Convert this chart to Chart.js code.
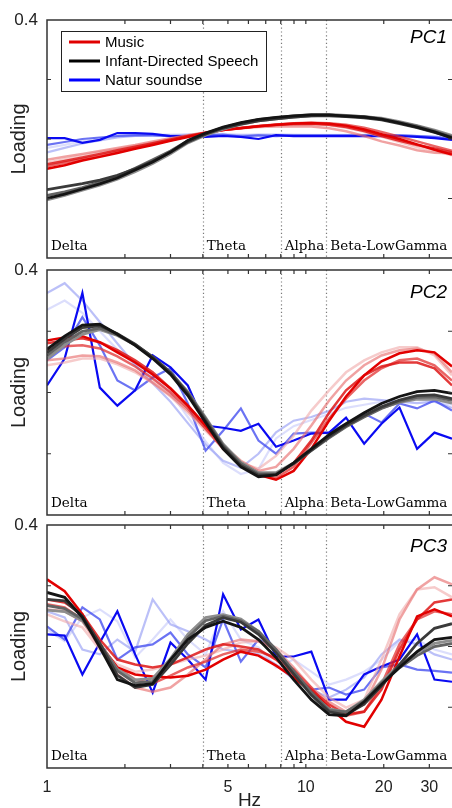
<!DOCTYPE html>
<html>
<head>
<meta charset="utf-8">
<script src="https://cdn.jsdelivr.net/npm/chart.js@4.4.1/dist/chart.umd.min.js"></script>
<style>
body { margin: 0; background: #fff; }
#wrap { position: relative; width: 452px; height: 808px; overflow: hidden; }
#wrap canvas { position: absolute; left: 0; }
</style>
</head>
<body>
<div id="wrap">
  <canvas id="pc1" width="452" height="262" style="top:0px"></canvas>
  <canvas id="pc2" width="452" height="270" style="top:250px"></canvas>
  <canvas id="pc3" width="452" height="303" style="top:505px"></canvas>
</div>
<script>
// frequency bins (Hz), log spaced
var freqs = [1.00, 1.17, 1.37, 1.60, 1.87, 2.19, 2.56, 3.00, 3.50, 4.10, 4.79, 5.61,
             6.56, 7.67, 8.97, 10.5, 12.3, 14.3, 16.8, 19.6, 23.0, 26.9, 31.4, 36.7];
var xTicks = [1, 2, 3, 4, 5, 6, 7, 8, 9, 10, 20, 30];
var xTickLabels = [1, 5, 10, 20, 30];
var yTicks = [-0.2, 0, 0.2];
var bandNames = ['Delta', 'Theta', 'Alpha', 'Beta-LowGamma'];
var bandStarts = [1, 4, 8, 12];
var seriesNames = ['Music', 'Infant-Directed Speech', 'Natur soundse'];

// PC1 loadings
var pc1Speech = [
  [-0.200,-0.185,-0.168,-0.151,-0.131,-0.104,-0.077,-0.044,-0.005,0.020,0.040,0.055,0.066,0.073,0.078,0.081,0.081,0.077,0.074,0.067,0.054,0.040,0.024,0.003],
  [-0.170,-0.160,-0.150,-0.138,-0.122,-0.100,-0.075,-0.045,-0.010,0.016,0.036,0.050,0.061,0.068,0.074,0.078,0.078,0.075,0.071,0.064,0.052,0.038,0.022,0.005],
  [-0.190,-0.178,-0.163,-0.145,-0.125,-0.098,-0.070,-0.040,-0.006,0.018,0.038,0.053,0.065,0.072,0.078,0.082,0.082,0.079,0.075,0.068,0.056,0.043,0.027,0.008],
  [-0.205,-0.190,-0.172,-0.155,-0.135,-0.110,-0.082,-0.050,-0.013,0.013,0.033,0.049,0.061,0.068,0.074,0.078,0.080,0.078,0.075,0.070,0.058,0.045,0.030,0.012]
];
var pc1Music = [
  [-0.100,-0.088,-0.072,-0.060,-0.047,-0.033,-0.020,-0.006,0.007,0.020,0.030,0.036,0.043,0.048,0.052,0.054,0.051,0.045,0.032,0.016,0.000,-0.018,-0.036,-0.052],
  [-0.085,-0.074,-0.062,-0.050,-0.038,-0.026,-0.014,-0.002,0.010,0.021,0.031,0.037,0.043,0.047,0.050,0.051,0.048,0.040,0.027,0.010,-0.006,-0.020,-0.032,-0.045],
  [-0.092,-0.080,-0.067,-0.055,-0.043,-0.030,-0.017,-0.004,0.009,0.020,0.030,0.037,0.044,0.049,0.053,0.055,0.053,0.048,0.038,0.024,0.008,-0.008,-0.024,-0.040],
  [-0.070,-0.060,-0.050,-0.040,-0.030,-0.020,-0.008,0.003,0.013,0.022,0.030,0.036,0.040,0.042,0.043,0.042,0.036,0.026,0.010,-0.008,-0.022,-0.038,-0.046,-0.048],
  [-0.080,-0.068,-0.055,-0.044,-0.034,-0.023,-0.012,0.000,0.012,0.022,0.031,0.038,0.044,0.048,0.050,0.050,0.046,0.038,0.024,0.008,-0.010,-0.028,-0.040,-0.055]
];
var pc1Nature = [
  [0.003,0.003,-0.013,-0.003,0.020,0.020,0.017,0.010,0.010,0.007,0.010,0.007,0.000,0.013,0.010,0.010,0.010,0.010,0.010,0.010,0.010,0.007,0.003,-0.003],
  [-0.020,-0.010,0.000,0.005,0.010,0.012,0.012,0.010,0.010,0.012,0.015,0.008,0.012,0.010,0.012,0.012,0.012,0.012,0.012,0.012,0.012,0.010,0.006,0.000],
  [-0.045,-0.030,-0.015,-0.005,0.005,0.010,0.012,0.012,0.014,0.014,0.014,0.012,0.014,0.014,0.013,0.013,0.013,0.013,0.013,0.013,0.012,0.010,0.008,0.004],
  [-0.030,-0.020,-0.008,0.002,0.008,0.014,0.015,0.015,0.016,0.016,0.017,0.015,0.015,0.015,0.015,0.014,0.014,0.014,0.014,0.014,0.013,0.011,0.007,0.002]
];

// PC2 loadings
var pc2Speech = [
  [0.141,0.184,0.220,0.223,0.190,0.154,0.111,0.059,-0.010,-0.098,-0.184,-0.243,-0.275,-0.269,-0.230,-0.184,-0.138,-0.102,-0.066,-0.036,-0.013,0.003,0.007,-0.003],
  [0.130,0.175,0.212,0.218,0.192,0.158,0.116,0.064,-0.004,-0.092,-0.178,-0.238,-0.270,-0.268,-0.232,-0.188,-0.144,-0.108,-0.075,-0.047,-0.025,-0.010,-0.008,-0.020],
  [0.120,0.165,0.200,0.210,0.188,0.156,0.116,0.066,0.000,-0.086,-0.172,-0.232,-0.266,-0.265,-0.232,-0.190,-0.148,-0.112,-0.080,-0.052,-0.030,-0.016,-0.014,-0.026],
  [0.110,0.155,0.190,0.205,0.186,0.155,0.115,0.065,0.002,-0.082,-0.168,-0.228,-0.262,-0.262,-0.230,-0.188,-0.146,-0.110,-0.078,-0.050,-0.032,-0.022,-0.022,-0.035]
];
var pc2Music = [
  [0.170,0.180,0.184,0.164,0.131,0.098,0.059,0.013,-0.043,-0.108,-0.177,-0.233,-0.269,-0.285,-0.256,-0.184,-0.092,-0.013,0.056,0.102,0.128,0.138,0.131,0.085],
  [0.161,0.170,0.177,0.164,0.138,0.105,0.066,0.013,-0.043,-0.108,-0.177,-0.230,-0.262,-0.269,-0.230,-0.157,-0.066,0.007,0.056,0.085,0.098,0.098,0.079,0.023],
  [0.138,0.151,0.154,0.144,0.118,0.085,0.046,0.000,-0.052,-0.118,-0.184,-0.236,-0.269,-0.279,-0.243,-0.164,-0.085,-0.020,0.039,0.079,0.105,0.111,0.089,0.039],
  [0.105,0.111,0.121,0.118,0.098,0.072,0.033,-0.010,-0.059,-0.118,-0.174,-0.223,-0.256,-0.243,-0.184,-0.108,-0.026,0.039,0.089,0.121,0.138,0.144,0.128,0.066],
  [0.089,0.098,0.111,0.111,0.092,0.066,0.030,-0.013,-0.066,-0.125,-0.180,-0.230,-0.249,-0.207,-0.141,-0.059,0.007,0.066,0.105,0.131,0.148,0.148,0.121,0.056]
];
var pc2Nature = [
  [0.023,0.111,0.325,0.016,-0.043,0.007,0.121,0.082,0.023,-0.108,-0.115,-0.125,-0.102,-0.177,-0.157,-0.134,-0.131,-0.082,-0.167,-0.102,-0.049,-0.184,-0.131,-0.151],
  [0.105,0.148,0.246,0.154,0.039,0.007,0.049,0.079,-0.036,-0.190,-0.125,-0.052,-0.157,-0.200,-0.134,-0.131,-0.131,-0.102,-0.069,-0.098,-0.036,-0.052,-0.026,-0.059],
  [0.325,0.357,0.300,0.230,0.160,0.090,0.030,-0.030,-0.100,-0.170,-0.223,-0.246,-0.200,-0.130,-0.092,-0.080,-0.060,-0.030,-0.020,-0.025,-0.030,-0.035,-0.030,-0.050],
  [0.270,0.300,0.260,0.200,0.140,0.090,0.050,0.000,-0.080,-0.160,-0.230,-0.266,-0.250,-0.150,-0.110,-0.090,-0.070,-0.050,-0.040,-0.030,-0.030,-0.020,-0.030,-0.040]
];

// PC3 loadings
var pc3Speech = [
  [0.178,0.162,0.096,-0.003,-0.109,-0.129,-0.122,-0.043,0.023,0.063,0.083,0.063,0.023,-0.036,-0.109,-0.175,-0.224,-0.228,-0.182,-0.125,-0.069,-0.017,0.023,0.030],
  [0.155,0.150,0.100,0.010,-0.095,-0.135,-0.125,-0.060,0.010,0.070,0.095,0.080,0.040,-0.020,-0.090,-0.160,-0.215,-0.225,-0.190,-0.130,-0.060,0.010,0.060,0.075],
  [0.135,0.125,0.090,0.010,-0.080,-0.120,-0.115,-0.050,0.030,0.085,0.100,0.085,0.050,-0.010,-0.080,-0.150,-0.210,-0.215,-0.180,-0.120,-0.070,-0.030,0.000,0.010],
  [0.120,0.115,0.085,0.010,-0.075,-0.110,-0.105,-0.040,0.040,0.095,0.105,0.090,0.050,-0.015,-0.085,-0.155,-0.205,-0.215,-0.175,-0.115,-0.060,-0.020,0.010,0.020]
];
var pc3Music = [
  [0.221,0.182,0.106,0.007,-0.069,-0.092,-0.099,-0.102,-0.096,-0.076,-0.043,-0.017,-0.030,-0.063,-0.102,-0.149,-0.201,-0.248,-0.264,-0.175,-0.033,0.099,0.122,0.099],
  [0.155,0.145,0.106,0.023,-0.043,-0.059,-0.069,-0.059,-0.036,-0.010,0.007,0.000,-0.010,-0.043,-0.092,-0.142,-0.191,-0.224,-0.214,-0.142,-0.010,0.089,0.145,0.155],
  [0.139,0.129,0.089,0.007,-0.069,-0.109,-0.122,-0.096,-0.069,-0.050,-0.026,-0.010,-0.017,-0.036,-0.076,-0.135,-0.208,-0.228,-0.215,-0.125,0.007,0.089,0.116,0.106],
  [0.122,0.116,0.083,-0.003,-0.092,-0.135,-0.149,-0.135,-0.092,-0.043,0.007,0.023,0.017,-0.010,-0.069,-0.135,-0.182,-0.215,-0.191,-0.076,0.089,0.188,0.228,0.205],
  [0.106,0.083,0.063,-0.010,-0.059,-0.083,-0.076,-0.059,-0.043,-0.030,-0.010,0.013,0.017,-0.003,-0.043,-0.109,-0.168,-0.201,-0.175,-0.043,0.106,0.188,0.195,0.162]
];
var pc3Nature = [
  [0.040,0.036,-0.092,0.013,0.116,-0.026,-0.152,0.013,-0.043,-0.109,0.172,0.056,0.089,-0.033,-0.033,-0.017,-0.175,-0.175,-0.092,-0.066,-0.043,0.040,-0.109,-0.116],
  [0.066,0.023,0.129,0.089,-0.043,-0.003,0.007,0.046,-0.026,-0.069,0.089,-0.050,0.023,-0.010,-0.092,-0.142,-0.135,-0.158,-0.142,-0.069,-0.059,-0.076,-0.080,-0.086],
  [0.116,0.096,-0.010,-0.026,0.023,-0.017,0.155,0.073,0.050,0.023,-0.010,-0.017,-0.026,-0.059,-0.109,-0.142,-0.168,-0.142,-0.102,-0.026,0.023,0.007,-0.026,-0.043],
  [0.056,0.017,0.096,0.122,0.083,-0.036,0.023,0.089,0.023,-0.026,0.116,0.023,-0.003,-0.069,-0.043,-0.083,-0.125,-0.109,-0.083,-0.043,0.017,0.023,-0.010,-0.026]
];

var speechColors = ['#141414', '#3a3a3a', '#646464', '#8e8e8e'];
var musicColors = ['#e20000', 'rgba(222,22,22,0.85)', 'rgba(226,50,50,0.75)', 'rgba(232,112,112,0.65)', 'rgba(240,168,168,0.6)'];
var natureColors = ['#0a0af2', 'rgba(70,80,240,0.8)', 'rgba(150,158,245,0.65)', 'rgba(196,200,250,0.6)'];
var legendColors = ['#e00000', '#000000', '#0000ff'];

var sansFont = '"Liberation Sans", Arial, Helvetica, sans-serif';

function runsToSets(runs, colors, width) {
  return runs.map(function (run, i) {
    return {
      data: run,
      borderColor: colors[i],
      borderWidth: width,
      pointRadius: 0,
      tension: 0,
      fill: false
    };
  });
}

// frame, inward ticks, band markers, panel name and legend
var panelDecor = {
  id: 'panelDecor',
  beforeDatasetsDraw: function (chart) {
    var ctx = chart.ctx, a = chart.chartArea, x = chart.scales.x;
    ctx.save();
    ctx.strokeStyle = '#7a7a7a';
    ctx.lineWidth = 1.2;
    ctx.setLineDash([1.2, 2.6]);
    bandStarts.slice(1).forEach(function (f) {
      var px = Math.round(x.getPixelForValue(f)) + 0.5;
      ctx.beginPath();
      ctx.moveTo(px, a.top);
      ctx.lineTo(px, a.bottom);
      ctx.stroke();
    });
    ctx.restore();
  },
  afterDatasetsDraw: function (chart, args, opts) {
    var ctx = chart.ctx, a = chart.chartArea, x = chart.scales.x, y = chart.scales.y;
    ctx.save();

    // band names along the bottom
    ctx.fillStyle = '#000';
    ctx.font = '13.5px "DejaVu Serif", serif';
    ctx.textAlign = 'left';
    ctx.textBaseline = 'alphabetic';
    bandNames.forEach(function (name, i) {
      ctx.fillText(name, x.getPixelForValue(bandStarts[i]) + 4, a.bottom - 8);
    });

    // axes box (right side runs off the page)
    ctx.strokeStyle = '#333';
    ctx.lineWidth = 1.5;
    ctx.beginPath();
    ctx.moveTo(a.right + 2, a.top);
    ctx.lineTo(a.left, a.top);
    ctx.lineTo(a.left, a.bottom);
    ctx.lineTo(a.right + 2, a.bottom);
    ctx.stroke();

    ctx.lineWidth = 1.2;
    ctx.beginPath();
    xTicks.slice(1).forEach(function (v) {
      var px = x.getPixelForValue(v);
      ctx.moveTo(px, a.top);
      ctx.lineTo(px, a.top + 4);
      ctx.moveTo(px, a.bottom);
      ctx.lineTo(px, a.bottom - 4);
    });
    yTicks.forEach(function (v) {
      var py = y.getPixelForValue(v);
      ctx.moveTo(a.left, py);
      ctx.lineTo(a.left + 4, py);
      ctx.moveTo(a.right, py);
      ctx.lineTo(a.right - 4, py);
    });
    ctx.stroke();

    // panel name
    ctx.font = 'italic 19px ' + sansFont;
    ctx.textAlign = 'right';
    ctx.fillText(opts.name, 447, a.top + opts.nameY);

    if (opts.legend) {
      ctx.fillStyle = '#fff';
      ctx.fillRect(61.5, 31.5, 205, 60);
      ctx.strokeStyle = '#222';
      ctx.lineWidth = 1;
      ctx.strokeRect(61.5, 31.5, 205, 60);
      ctx.font = '15px ' + sansFont;
      ctx.textAlign = 'left';
      ctx.textBaseline = 'middle';
      seriesNames.forEach(function (name, i) {
        var ly = 42 + i * 19;
        ctx.strokeStyle = legendColors[i];
        ctx.lineWidth = 3;
        ctx.beginPath();
        ctx.moveTo(69, ly);
        ctx.lineTo(100, ly);
        ctx.stroke();
        ctx.fillStyle = '#000';
        ctx.fillText(name, 105, ly + 1);
      });
    }
    ctx.restore();
  }
};

function makePanel(id, speech, music, nature, decor, padding, showX) {
  var sets = runsToSets(speech, speechColors, 2.8)
    .concat(runsToSets(music, musicColors, 2.5))
    .concat(runsToSets(nature, natureColors, 2.2));
  return new Chart(document.getElementById(id), {
    type: 'line',
    data: { labels: freqs, datasets: sets },
    plugins: [panelDecor],
    options: {
      responsive: false,
      animation: false,
      layout: { padding: padding },
      plugins: {
        legend: { display: false },
        tooltip: { enabled: false },
        panelDecor: decor
      },
      scales: {
        x: {
          type: 'logarithmic',
          min: 1,
          max: 36.7,
          display: showX,
          afterBuildTicks: function (scale) {
            scale.ticks = xTicks.map(function (v) { return { value: v }; });
          },
          afterFit: function (scale) { scale.height = showX ? 40 : 0; },
          grid: { display: false, drawTicks: false },
          border: { display: false },
          ticks: {
            autoSkip: false,
            maxRotation: 0,
            padding: 10,
            color: '#222',
            font: { family: sansFont, size: 16 },
            callback: function (v) { return xTickLabels.indexOf(v) >= 0 ? String(v) : ''; }
          },
          title: {
            display: true,
            text: 'Hz',
            color: '#222',
            font: { family: sansFont, size: 19 },
            padding: { top: 0, bottom: -4 }
          }
        },
        y: {
          min: -0.4,
          max: 0.4,
          // fixed axis width; the hidden bottom labels must not shrink the plot
          afterFit: function (scale) {
            scale.width = 47;
            scale.paddingTop = 0;
            scale.paddingBottom = 0;
          },
          grid: { display: false, drawTicks: false },
          border: { display: false },
          ticks: {
            stepSize: 0.2,
            padding: 9,
            color: '#222',
            font: { family: sansFont, size: 17 },
            // only the top value carries a label
            callback: function (v) { return Math.abs(v - 0.4) < 1e-6 ? '0.4' : null; }
          },
          title: {
            display: true,
            text: 'Loading',
            color: '#222',
            font: { family: sansFont, size: 20 },
            padding: { top: 7, bottom: 0 }
          }
        }
      }
    }
  });
}

makePanel('pc1', pc1Speech, pc1Music, pc1Nature, { name: 'PC1', nameY: 23, legend: true }, { top: 20, bottom: 4, left: 0, right: 0 }, false);
makePanel('pc2', pc2Speech, pc2Music, pc2Nature, { name: 'PC2', nameY: 28, legend: false }, { top: 20, bottom: 5, left: 0, right: 0 }, false);
makePanel('pc3', pc3Speech, pc3Music, pc3Nature, { name: 'PC3', nameY: 27, legend: false }, { top: 20, bottom: 0, left: 0, right: 0 }, true);
</script>
</body>
</html>
